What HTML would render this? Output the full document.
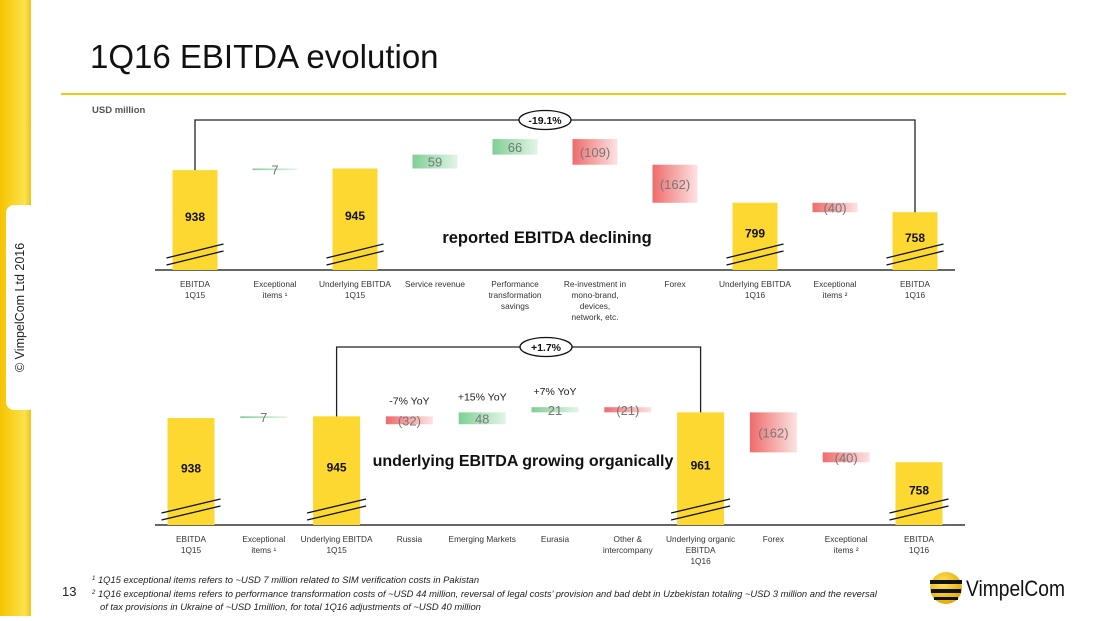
<!DOCTYPE html>
<html><head><meta charset="utf-8"><style>
body{margin:0;width:1095px;height:616px;overflow:hidden;background:#fff;font-family:"Liberation Sans",sans-serif}
svg text{font-family:"Liberation Sans",sans-serif}
</style></head><body>
<svg id="s" width="1095" height="616" xmlns="http://www.w3.org/2000/svg">
<defs>
<linearGradient id="side" x1="0" x2="1"><stop offset="0" stop-color="#f5c400"/><stop offset="0.8" stop-color="#fde24a"/><stop offset="1" stop-color="#e9c420"/></linearGradient>
<linearGradient id="gG" x1="0" x2="1"><stop offset="0" stop-color="#7fcf94"/><stop offset="1" stop-color="#e2f5e7"/></linearGradient>
<linearGradient id="gR" x1="0" x2="1"><stop offset="0" stop-color="#ef6b6b"/><stop offset="1" stop-color="#fde3e3"/></linearGradient>
<radialGradient id="ball" cx="0.4" cy="0.35" r="0.7"><stop offset="0" stop-color="#ffe45a"/><stop offset="1" stop-color="#e0a800"/></radialGradient>
</defs>
<rect x="0" y="0" width="31" height="616" fill="url(#side)"/>
<rect x="6" y="205" width="30" height="205" rx="8" fill="#fff"/>
<text transform="translate(24,372) rotate(-90)" font-size="12.5" fill="#222">© VimpelCom Ltd 2016</text>
<text x="90" y="68" font-size="33" fill="#111">1Q16 EBITDA evolution</text>
<rect x="61" y="93" width="1005" height="2" fill="#f3c80e"/>
<text x="92" y="113" font-size="9.5" font-weight="bold" fill="#555">USD million</text>
<g id="c1"></g>
<g id="c2"></g>
<text x="547" y="243" font-size="16.5" font-weight="bold" text-anchor="middle" fill="#111">reported EBITDA declining</text>
<text x="523" y="466" font-size="16" font-weight="bold" text-anchor="middle" fill="#111">underlying EBITDA growing organically</text>
<text x="62" y="596" font-size="13" fill="#222">13</text>
<g font-size="9.4" font-style="italic" fill="#222">
<text x="92" y="583"><tspan font-size="6" dy="-3">1</tspan><tspan dy="3"> 1Q15 exceptional items refers to ~USD 7 million related to SIM verification costs in Pakistan</tspan></text>
<text x="92" y="597"><tspan font-size="6" dy="-3">2</tspan><tspan dy="3"> 1Q16 exceptional items refers to performance transformation costs of ~USD 44 million, reversal of legal costs’ provision and bad debt in Uzbekistan totaling ~USD 3 million and the reversal</tspan></text>
<text x="100" y="610">of tax provisions in Ukraine of ~USD 1million, for total 1Q16 adjustments of ~USD 40 million</text>
</g>
<g>
<circle cx="946" cy="588" r="16" fill="url(#ball)"/>
<rect x="930" y="580" width="32" height="4" fill="#111"/>
<rect x="931" y="589" width="30" height="4" fill="#111"/>
<rect x="934" y="597" width="24" height="3" fill="#111"/>
<text x="966" y="596" font-size="22" textLength="99" lengthAdjust="spacingAndGlyphs" fill="#111">VimpelCom</text>
</g>
</svg>
<script>
const NS="http://www.w3.org/2000/svg";
const c1Cats=[["EBITDA","1Q15"],["Exceptional","items ¹"],["Underlying EBITDA","1Q15"],["Service revenue"],["Performance","transformation","savings"],["Re-investment in","mono-brand,","devices,","network, etc."],["Forex"],["Underlying EBITDA","1Q16"],["Exceptional","items ²"],["EBITDA","1Q16"]];
const c1Vals=[938,7,null,59,66,-109,-162,null,-40,null];
const c1Total=[true,false,true,false,false,false,false,true,false,true];
const c1Labels=["938","7","945","59","66","(109)","(162)","799","(40)","758"];
const c2Cats=[["EBITDA","1Q15"],["Exceptional","items ¹"],["Underlying EBITDA","1Q15"],["Russia"],["Emerging Markets"],["Eurasia"],["Other &","intercompany"],["Underlying organic","EBITDA","1Q16"],["Forex"],["Exceptional","items ²"],["EBITDA","1Q16"]];
const c2Vals=[938,7,null,-32,48,21,-21,null,-162,-40,null];
const c2Total=[true,false,true,false,false,false,false,true,false,false,true];
const c2Labels=["938","7","945","(32)","48","21","(21)","961","(162)","(40)","758"];
const c2Yoy=[null,null,null,"-7% YoY","+15% YoY","+7% YoY",null,null,null,null,null];

function mk(p,t,a,txt){const e=document.createElementNS(NS,t);for(const k in a)e.setAttribute(k,a[k]);if(txt!==undefined)e.textContent=txt;p.appendChild(e);return e;}

function draw(g,cfg){
  const {cats,vals,tot,labels,x0,step,bw,base,scale,y0,axL,axR,yoy}=cfg;
  const Y=v=>y0-(v-base)*scale;
  const X=i=>x0+step*i;
  mk(g,"line",{x1:axL,x2:axR,y1:y0,y2:y0,stroke:"#333","stroke-width":1.5});
  let run=0;const tops=[];
  cats.forEach((c,i)=>{
    const cx=X(i);let r;
    if(tot[i]){
      if(vals[i]!==null)run=vals[i];
      const yt=Y(run);tops.push(yt);
      r=mk(g,"rect",{x:cx-bw/2,y:yt,width:bw,height:y0-yt,fill:"#fdd830"});
      
      
      mk(g,"line",{x1:cx-bw/2-6,y1:y0-12,x2:cx+bw/2+6,y2:y0-26,stroke:"#111","stroke-width":1.3});
      mk(g,"line",{x1:cx-bw/2-6,y1:y0-5,x2:cx+bw/2+6,y2:y0-19,stroke:"#111","stroke-width":1.3});
      const t=mk(g,"text",{x:cx,y:Y(run)+(y0-Y(run))*0.5+1,"font-size":12,"font-weight":"bold","text-anchor":"middle",fill:"#111"},labels[i]);
      
      
    }else{
      tops.push(null);
      const a=run,b=run+vals[i];run=b;
      const yt=Y(Math.max(a,b)),yb=Y(Math.min(a,b));
      r=mk(g,"rect",{x:cx-bw/2,y:yt,width:bw,height:Math.max(yb-yt,1.5),fill:vals[i]>=0?"url(#gG)":"url(#gR)"});
      
      
      const t=mk(g,"text",{x:cx,y:(yt+yb)/2+5,"font-size":13,"text-anchor":"middle",fill:"#777"},labels[i]);
      
      
      if(yoy&&yoy[i]){const q=mk(g,"text",{x:cx,y:yt-12,"font-size":10.5,"text-anchor":"middle",fill:"#222"},yoy[i]);
        
        }
    }
    c.forEach((ln,j)=>{const t=mk(g,"text",{x:cx,y:y0+17+j*11,"font-size":8.3,"text-anchor":"middle",fill:"#333"},ln);
      
      });
  });
  const [ia,ib]=cfg.brk,by=cfg.brkY;
  mk(g,"polyline",{points:`${X(ia)},${tops[ia]} ${X(ia)},${by} ${X(ib)},${by} ${X(ib)},${tops[ib]}`,fill:"none",stroke:"#222","stroke-width":1.3});
  const mx=cfg.ovX;
  const e=mk(g,"ellipse",{cx:mx,cy:by,rx:26,ry:9.5,fill:"#fff",stroke:"#111","stroke-width":1.3});
  
  
  mk(g,"text",{x:mx,y:by+4,"font-size":10.5,"font-weight":"bold","text-anchor":"middle",fill:"#111"},cfg.ov);
}
draw(document.getElementById("c1"),{cats:c1Cats,vals:c1Vals,tot:c1Total,labels:c1Labels,x0:195,step:80,bw:45,base:513,scale:0.235,y0:270,axL:155,axR:955,brk:[0,9],brkY:120,ovX:545,ov:"-19.1%"});
draw(document.getElementById("c2"),{cats:c2Cats,vals:c2Vals,tot:c2Total,labels:c2Labels,x0:191,step:72.8,bw:47,base:505,scale:0.247,y0:525,axL:155,axR:965,brk:[2,7],brkY:347,ovX:546,ov:"+1.7%",yoy:c2Yoy});
</script>
</body></html>
